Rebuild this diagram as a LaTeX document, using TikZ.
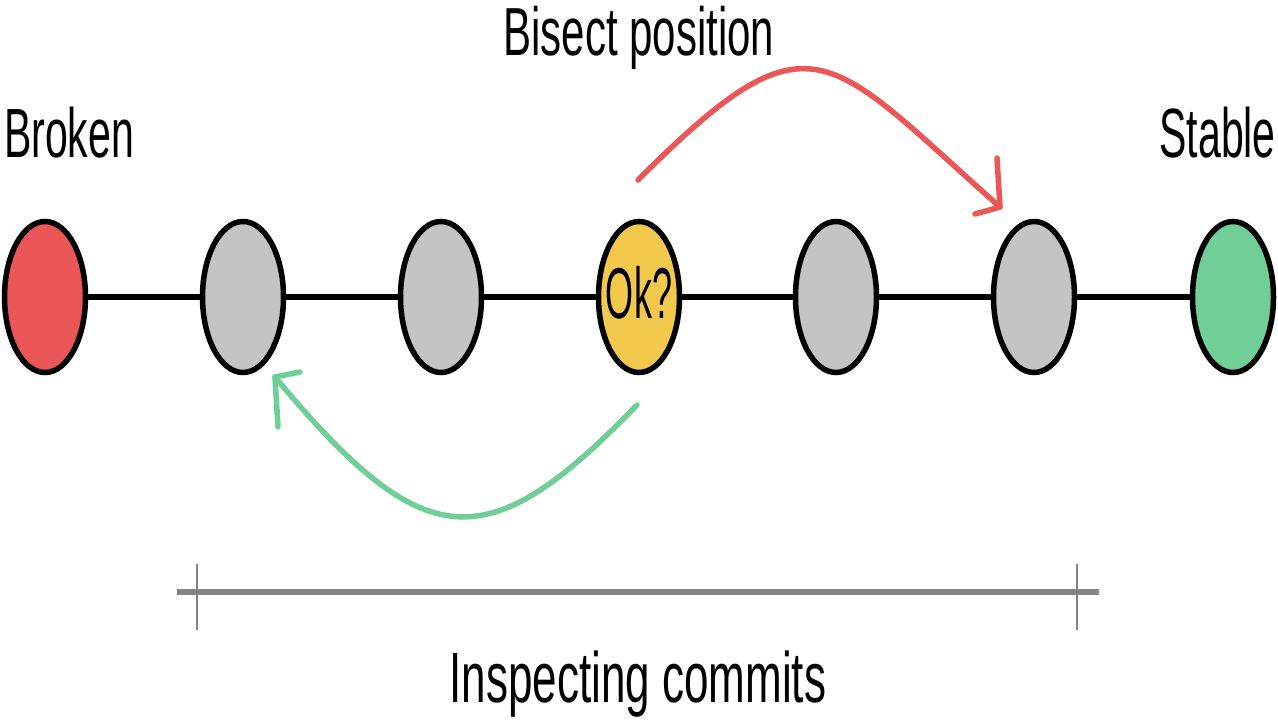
\documentclass[tikz,border=0pt]{standalone}
\usepackage{fontspec}
\setmainfont{Liberation Sans}
\usetikzlibrary{shapes.geometric,calc}
\definecolor{cred}{HTML}{EB5757}
\definecolor{cgray}{HTML}{C4C4C4}
\definecolor{cyellow}{HTML}{F2C94C}
\definecolor{cgreen}{HTML}{6FCF97}
\definecolor{cbar}{HTML}{858585}
\newcommand\tallt[2][1.7]{\scalebox{1}[#1]{#2}}
\begin{document}
\begin{tikzpicture}[x=1pt,y=-1pt,
  commit/.style={ellipse, draw=black, line width=5.5pt, minimum width=81pt, minimum height=151pt, inner sep=0pt},
  lbl/.style={inner sep=0pt, font=\fontsize{41}{48}\selectfont},
  chain/.style={line width=6pt, black},
  redarrow/.style={line width=5.5pt, cred, line cap=round, line join=round},
  greenarrow/.style={line width=5.5pt, cgreen, line cap=round, line join=round},
  barline/.style={line width=6pt, cbar},
  tick/.style={line width=2.5pt, cbar}]
\useasboundingbox (0,0) rectangle (1278,720);
% commits
\node[commit, fill=cred] (c1) at (45,297) {};
\node[commit, fill=cgray] (c2) at (243,297) {};
\node[commit, fill=cgray] (c3) at (441,297) {};
\node[commit, fill=cyellow] (c4) at (639,297) {};
\node[commit, fill=cgray] (c5) at (836,297) {};
\node[commit, fill=cgray] (c6) at (1034,297) {};
\node[commit, fill=cgreen] (c7) at (1233,297) {};
\node[inner sep=0pt, anchor=base, font=\fontsize{36}{40}\selectfont] (oktext) at (639,318) {\tallt[2.0]{Ok?}};
\draw[chain] (c1) -- (c2);
\draw[chain] (c2) -- (c3);
\draw[chain] (c3) -- (c4);
\draw[chain] (c4) -- (c5);
\draw[chain] (c5) -- (c6);
\draw[chain] (c6) -- (c7);
% labels
\node[lbl, anchor=base west] (broken) at (4,157) {\tallt{Broken}};
\node[lbl, anchor=base east] (stable) at (1276,157) {\tallt{Stable}};
\node[lbl, anchor=base, font=\fontsize{42}{48}\selectfont] (bisect) at (639,55) {\tallt[1.62]{Bisect position}};
\node[lbl, anchor=base, font=\fontsize{44}{50}\selectfont] (inspect) at (638,702) {\tallt[1.62]{Inspecting commits}};
% red arrow
\coordinate (rs) at (638,180);
\coordinate (rt) at (1000,207);
\coordinate (ra1) at (975,214);
\coordinate (ra2) at (997,158);
\draw[redarrow] (rs) .. controls (812,6) and (825,52) .. (rt);
\draw[redarrow] (ra1) -- (rt) -- (ra2);
% green arrow
\coordinate (gs) at (637,405);
\coordinate (gt) at (275,377);
\coordinate (ga1) at (300,372);
\coordinate (ga2) at (278,427);
\draw[greenarrow] (gs) .. controls (487,560) and (425,557) .. (gt);
\draw[greenarrow] (ga1) -- (gt) -- (ga2);
% range bar
\coordinate (bl) at (177,592);
\coordinate (br) at (1099,592);
\coordinate (t1a) at (197,564);
\coordinate (t1b) at (197,630);
\coordinate (t2a) at (1077,564);
\coordinate (t2b) at (1077,630);
\draw[barline] (bl) -- (br);
\draw[tick] (t1a) -- (t1b);
\draw[tick] (t2a) -- (t2b);
\end{tikzpicture}
\end{document}
